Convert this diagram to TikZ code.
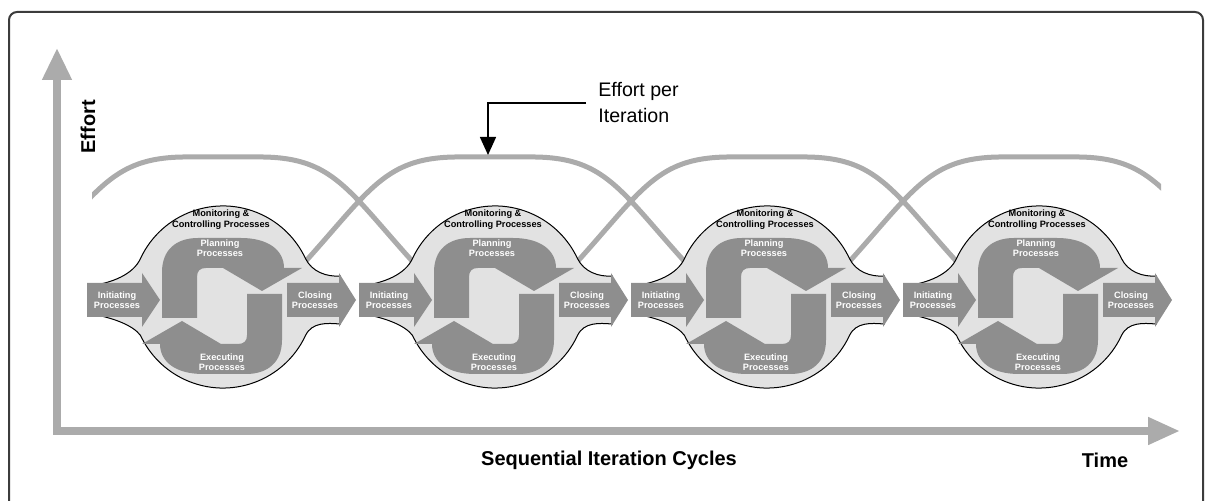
\documentclass[tikz,border=0pt]{standalone}
\usepackage{fontspec}
\setmainfont{Liberation Sans}
\usetikzlibrary{arrows.meta}
\definecolor{CycleFill}{HTML}{E2E2E2}
\definecolor{CycleDark}{HTML}{8E8E8E}
\definecolor{AxisGray}{HTML}{ABABAB}
\definecolor{FrameInk}{HTML}{3C3C3C}

\begin{document}
\begin{tikzpicture}[
  x=0.5pt,y=-0.5pt,
  frame/.style={draw=FrameInk,line width=1pt,rounded corners=4pt},
  axis/.style={draw=AxisGray,line width=3.75pt,
    {Triangle[length=16pt,width=14pt]}-{Triangle[length=16pt,width=13pt]}},
  effort/.style={draw=AxisGray,line width=2.5pt,line cap=round},
  ring/.style={fill=CycleFill,draw=black,line width=0.5pt},
  proc/.style={fill=CycleDark},
  proclbl/.style={text=white,font=\fontsize{4.6}{5.2}\selectfont\bfseries,align=center,inner sep=0pt},
  montext/.style={font=\fontsize{4.6}{5.4}\selectfont\bfseries,align=center,inner sep=0pt},
  axislbl/.style={font=\fontsize{10}{12}\selectfont\bfseries,inner sep=0pt},
  notetext/.style={font=\fontsize{9.8}{13}\selectfont,align=left,inner xsep=6pt,inner ysep=0pt},
  pointer/.style={draw=black,line width=0.75pt,-{Triangle[length=9pt,width=8pt]}}
]
  \useasboundingbox (0,0) rectangle (1205,501);
  \draw[frame] (9,12) rectangle (1203,540);
  \coordinate (ytip) at (57,48);
  \coordinate (xtip) at (1180,431);
  \draw[axis] (ytip) |- (xtip);
  \node[axislbl,rotate=90] (effortlbl) at (88,127) {Effort};
  \node[axislbl] (cycleslbl) at (609,460) {Sequential Iteration Cycles};
  \node[axislbl] (timelbl) at (1105,460) {Time};

  \begin{scope}
    \clip (92,100) rectangle (1161,300);
    \foreach \cx in {223,495,767,1039}
      \draw[effort] (\cx-190,262) .. controls (\cx-125,190) and (\cx-110,158) .. (\cx-40,157)
        -- (\cx+40,157) .. controls (\cx+110,158) and (\cx+125,190) .. (\cx+190,262);
  \end{scope}

  \foreach \cx [count=\i] in {223,495,767,1039}{
    \begin{scope}[shift={(\cx,0)}]
      \filldraw[ring] (-133,286) .. controls (-112,283) and (-90,275) .. (-82.5,258.5)
        arc[start angle=205,end angle=335,radius=91]
        .. controls (89,272) and (104,277) .. (117,276) -- (117,324)
        .. controls (104,323) and (89,322) .. (82.5,335.5)
        arc[start angle=25,end angle=155,radius=91]
        .. controls (-90,325) and (-112,317) .. (-133,314) -- cycle;
      \fill[proc] (-136,283) -- (-81,283) -- (-81,273) -- (-63,300) -- (-81,327)
        -- (-81,317) -- (-136,317) -- cycle;
      \fill[proc] (64,283) -- (116,283) -- (116,273) -- (133,300) -- (116,327)
        -- (116,317) -- (64,317) -- cycle;
      \foreach \turn in {0,180}
        \fill[proc,rotate around={\turn:(-1,306)}] (-61,318) -- (-61,272)
          .. controls (-61,250) and (-47,238) .. (-25,238) -- (18,238)
          .. controls (45,238) and (61,250) .. (61,268) -- (79,268) -- (39,291)
          -- (0,268) -- (-17,268) .. controls (-23,268) and (-26,271) .. (-26,277)
          -- (-26,318) -- cycle;
      \node[montext] (monitor\i) at (-2,220) {Monitoring \&\\Controlling Processes};
      \node[proclbl] (plan\i) at (-3,248) {Planning\\Processes};
      \node[proclbl] (exec\i) at (-1,362) {Executing\\Processes};
      \node[proclbl] (init\i) at (-106,300) {Initiating\\Processes};
      \node[proclbl] (close\i) at (92,300) {Closing\\Processes};
    \end{scope}}

  \coordinate (peak) at (488,155);
  \node[notetext,anchor=west] (note) at (586,103) {Effort per\\Iteration};
  \draw[pointer] (note.west) -| (peak);
\end{tikzpicture}
\end{document}
